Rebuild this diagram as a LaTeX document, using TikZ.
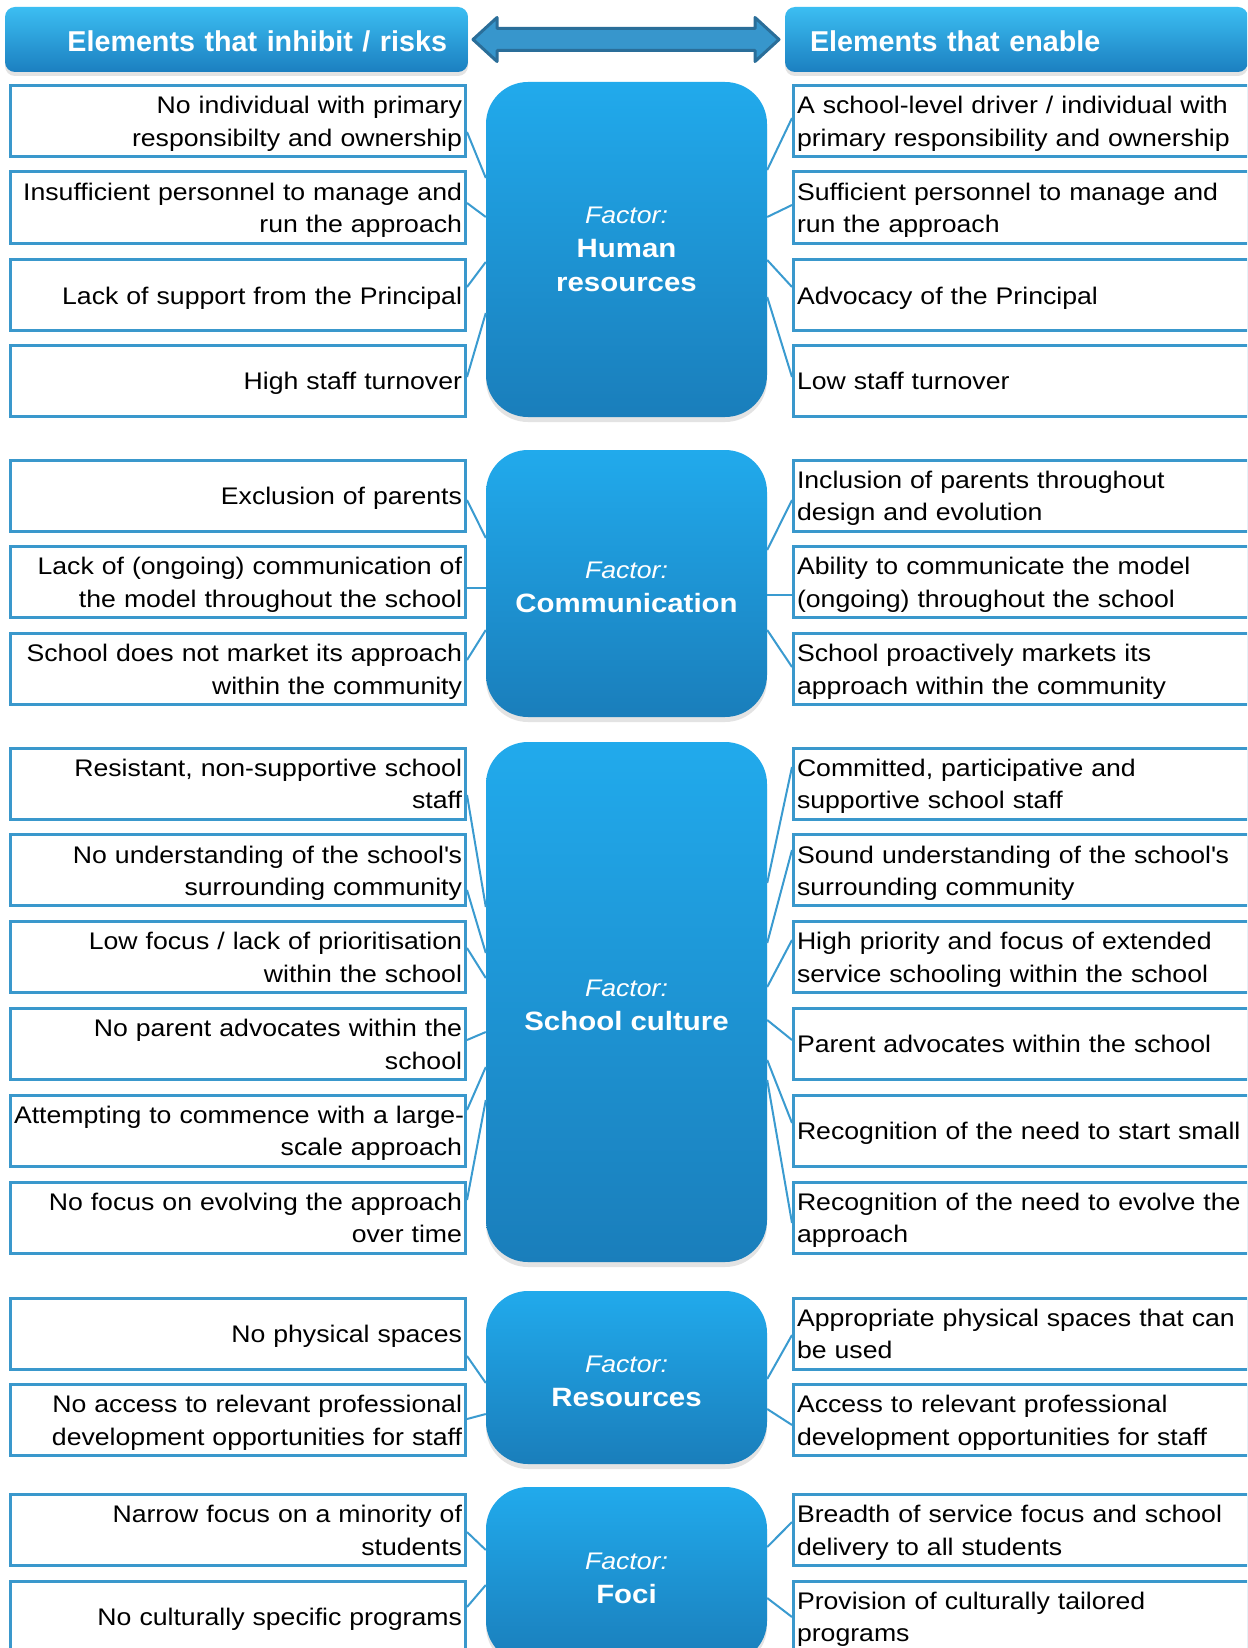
\documentclass[tikz,border=0pt]{standalone}
\usepackage{fontspec}
\setmainfont[FakeStretch=1.11]{Liberation Sans}
\newfontfamily\hdfont{Liberation Sans}
\usetikzlibrary{shadows}
\definecolor{boxline}{HTML}{3A98CC}
\definecolor{connc}{HTML}{3A9BD0}
\definecolor{ctop}{HTML}{21AAEC}
\definecolor{cbot}{HTML}{1A7EBB}
\definecolor{htop}{HTML}{3CBEF2}
\definecolor{hbot}{HTML}{1B7FC0}
\definecolor{arrfill}{HTML}{3796CC}
\definecolor{arrline}{HTML}{2A6E99}
\newcommand{\ist}{\rule[-5pt]{0pt}{28pt}}
\newcommand{\itmA}[1]{\ist\mbox{#1}\ist}
\newcommand{\itmB}[2]{\ist\mbox{#1}\\\mbox{#2}\ist}
\newcommand{\hdtxt}[1]{\smash{#1}\rule[-2.2pt]{0pt}{28pt}}
\newcommand{\flabtxt}[1]{\textit{Factor:}\\{\bfseries\fontsize{26.5pt}{34pt}\selectfont #1}}
\newcommand{\flab}[1]{\rule{0pt}{23.5pt}\flabtxt{#1}}
\tikzset{
  itembox/.style={draw=boxline, line width=3pt, fill=white, minimum height=71pt,
    text width=448pt, inner xsep=3.5pt, inner ysep=0pt,
    font=\fontsize{24pt}{32.5pt}\selectfont},
  lbox/.style={itembox, align=right},
  rbox/.style={itembox, align=left},
  factorbox/.style={rounded corners=42pt, top color=ctop, bottom color=cbot,
    minimum width=281pt, inner sep=0pt, text=white, align=center,
    font=\fontsize{24pt}{34pt}\selectfont,
    drop shadow={shadow xshift=0pt, shadow yshift=-5pt, opacity=0.22}},
  hdbox/.style={rounded corners=10pt, top color=htop, bottom color=hbot,
    minimum height=65pt, inner ysep=0pt, text=white,
    font=\hdfont\bfseries\fontsize{28.7pt}{34pt}\selectfont,
    drop shadow={shadow xshift=0pt, shadow yshift=-4pt, opacity=0.22}},
  conn/.style={draw=connc, line width=2pt}
}
\begin{document}
\begin{tikzpicture}[x=1pt,y=-1pt]
\useasboundingbox (0,0) rectangle (1247,1648);
\clip (0,0) rectangle (1247,1648);
\fill[white] (0,0) rectangle (1247,1648);

% headers
\node[hdbox, text width=421pt, inner xsep=21pt, align=right] (hL) at (236.5,39.5) {\hdtxt{Elements that inhibit / risks}};
\node[hdbox, text width=413pt, inner xsep=25pt, align=left] (hR) at (1016.5,39.5) {\hdtxt{Elements that enable}};
% double arrow
\filldraw[fill=arrfill, draw=arrline, line width=3pt, line join=round]
  (473,39.5) -- (497,17.5) -- (497,28.5) -- (755,28.5) -- (755,17.5) -- (779,39.5)
  -- (755,61.5) -- (755,50.5) -- (497,50.5) -- (497,61.5) -- cycle;

% factor boxes
\node[factorbox, minimum height=335pt] (fHR) at (626.5,249.5) {\flabtxt{Human}\\{\bfseries\fontsize{26.5pt}{34pt}\selectfont resources}};
\node[factorbox, minimum height=267pt] (fCom) at (626.5,583.5) {\flab{Communication}};
\node[factorbox, minimum height=520pt] (fSC) at (626.5,1002) {\flab{School culture}};
\node[factorbox, minimum height=173pt] (fRes) at (626.5,1377.5) {\flab{Resources}};
\node[factorbox, minimum height=176pt] (fFoc) at (626.5,1575) {\flab{Foci}};

% Human resources
\node[lbox] (hl1) at (238,121) {\itmB{No individual with primary}{responsibilty and ownership}};
\node[lbox] (hl2) at (238,207.5) {\itmB{Insufficient personnel to manage and}{run the approach}};
\node[lbox] (hl3) at (238,295) {\itmA{Lack of support from the Principal}};
\node[lbox] (hl4) at (238,380.5) {\itmA{High staff turnover}};
\node[rbox] (hr1) at (1021,121) {\itmB{A school-level driver / individual with}{primary responsibility and ownership}};
\node[rbox] (hr2) at (1021,207.5) {\itmB{Sufficient personnel to manage and}{run the approach}};
\node[rbox] (hr3) at (1021,295) {\itmA{Advocacy of the Principal}};
\node[rbox] (hr4) at (1021,380.5) {\itmA{Low staff turnover}};

% Communication
\node[lbox] (cl1) at (238,495.5) {\itmA{Exclusion of parents}};
\node[lbox] (cl2) at (238,582) {\itmB{Lack of (ongoing) communication of}{the model throughout the school}};
\node[lbox] (cl3) at (238,669) {\itmB{School does not market its approach}{within the community}};
\node[rbox] (cr1) at (1021,495.5) {\itmB{Inclusion of parents throughout}{design and evolution}};
\node[rbox] (cr2) at (1021,582) {\itmB{Ability to communicate the model}{(ongoing) throughout the school}};
\node[rbox] (cr3) at (1021,669) {\itmB{School proactively markets its}{approach within the community}};

% School culture
\node[lbox] (sl1) at (238,783.5) {\itmB{Resistant, non-supportive school}{staff}};
\node[lbox] (sl2) at (238,870.3) {\itmB{No understanding of the school\textquotesingle s}{surrounding community}};
\node[lbox] (sl3) at (238,957.1) {\itmB{Low focus / lack of prioritisation}{within the school}};
\node[lbox] (sl4) at (238,1043.9) {\itmB{No parent advocates within the}{school}};
\node[lbox] (sl5) at (238,1130.7) {\itmB{Attempting to commence with a large-}{scale approach}};
\node[lbox] (sl6) at (238,1217.5) {\itmB{No focus on evolving the approach}{over time}};
\node[rbox] (sr1) at (1021,783.5) {\itmB{Committed, participative and}{supportive school staff}};
\node[rbox] (sr2) at (1021,870.3) {\itmB{Sound understanding of the school\textquotesingle s}{surrounding community}};
\node[rbox] (sr3) at (1021,957.1) {\itmB{High priority and focus of extended}{service schooling within the school}};
\node[rbox] (sr4) at (1021,1043.9) {\itmA{Parent advocates within the school}};
\node[rbox] (sr5) at (1021,1130.7) {\itmA{Recognition of the need to start small}};
\node[rbox] (sr6) at (1021,1217.5) {\itmB{Recognition of the need to evolve the}{approach}};

% Resources
\node[lbox] (rl1) at (238,1333.5) {\itmA{No physical spaces}};
\node[lbox] (rl2) at (238,1420) {\itmB{No access to relevant professional}{development opportunities for staff}};
\node[rbox] (rr1) at (1021,1333.5) {\itmB{Appropriate physical spaces that can}{be used}};
\node[rbox] (rr2) at (1021,1420) {\itmB{Access to relevant professional}{development opportunities for staff}};

% Foci
\node[lbox] (fl1) at (238,1530) {\itmB{Narrow focus on a minority of}{students}};
\node[lbox] (fl2) at (238,1616.5) {\itmA{No culturally specific programs}};
\node[rbox] (fr1) at (1021,1530) {\itmB{Breadth of service focus and school}{delivery to all students}};
\node[rbox] (fr2) at (1021,1616.5) {\itmB{Provision of culturally tailored}{programs}};

% connectors
\draw[conn] (hl1.east |- 0,132) -- (fHR.west |- 0,178);
\draw[conn] (hl2.east |- 0,203) -- (fHR.west |- 0,217);
\draw[conn] (hl3.east |- 0,287) -- (fHR.west |- 0,262);
\draw[conn] (hl4.east |- 0,377) -- (fHR.west |- 0,313);
\draw[conn] (hr1.west |- 0,118) -- (fHR.east |- 0,170);
\draw[conn] (hr2.west |- 0,205) -- (fHR.east |- 0,217);
\draw[conn] (hr3.west |- 0,287) -- (fHR.east |- 0,260);
\draw[conn] (hr4.west |- 0,377) -- (fHR.east |- 0,297);

\draw[conn] (cl1.east |- 0,500) -- (fCom.west |- 0,538);
\draw[conn] (cl2.east |- 0,588) -- (fCom.west |- 0,588);
\draw[conn] (cl3.east |- 0,660) -- (fCom.west |- 0,630);
\draw[conn] (cr1.west |- 0,500) -- (fCom.east |- 0,550);
\draw[conn] (cr2.west |- 0,595) -- (fCom.east |- 0,595);
\draw[conn] (cr3.west |- 0,667) -- (fCom.east |- 0,630);

\draw[conn] (sl1.east |- 0,795) -- (fSC.west |- 0,907);
\draw[conn] (sl2.east |- 0,890) -- (fSC.west |- 0,953);
\draw[conn] (sl3.east |- 0,948) -- (fSC.west |- 0,978);
\draw[conn] (sl4.east |- 0,1040) -- (fSC.west |- 0,1032);
\draw[conn] (sl5.east |- 0,1110) -- (fSC.west |- 0,1067);
\draw[conn] (sl6.east |- 0,1200) -- (fSC.west |- 0,1100);
\draw[conn] (sr1.west |- 0,767) -- (fSC.east |- 0,883);
\draw[conn] (sr2.west |- 0,850) -- (fSC.east |- 0,943);
\draw[conn] (sr3.west |- 0,940) -- (fSC.east |- 0,987);
\draw[conn] (sr4.west |- 0,1040) -- (fSC.east |- 0,1020);
\draw[conn] (sr5.west |- 0,1123) -- (fSC.east |- 0,1060);
\draw[conn] (sr6.west |- 0,1223) -- (fSC.east |- 0,1080);

\draw[conn] (rl1.east |- 0,1356) -- (fRes.west |- 0,1383);
\draw[conn] (rl2.east |- 0,1419) -- (fRes.west |- 0,1414);
\draw[conn] (rr1.west |- 0,1335) -- (fRes.east |- 0,1379);
\draw[conn] (rr2.west |- 0,1425) -- (fRes.east |- 0,1409);

\draw[conn] (fl1.east |- 0,1532) -- (fFoc.west |- 0,1550);
\draw[conn] (fl2.east |- 0,1607) -- (fFoc.west |- 0,1585);
\draw[conn] (fr1.west |- 0,1522) -- (fFoc.east |- 0,1547);
\draw[conn] (fr2.west |- 0,1617) -- (fFoc.east |- 0,1598);
\end{tikzpicture}
\end{document}
